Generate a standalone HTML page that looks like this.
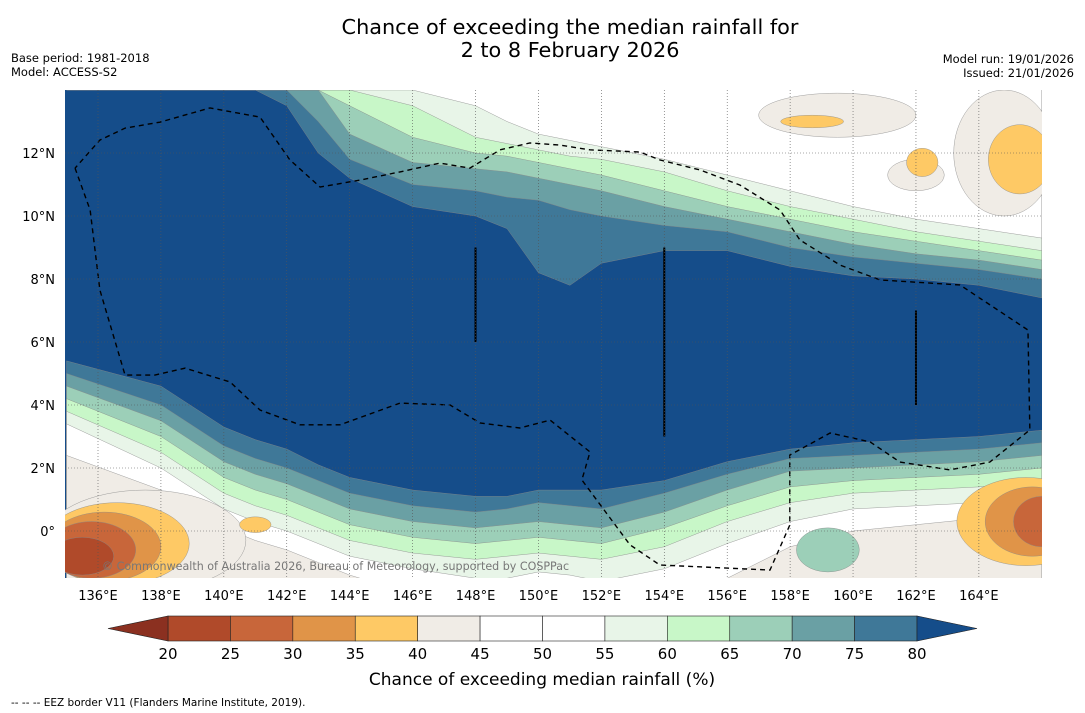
<!DOCTYPE html>
<html><head><meta charset="utf-8">
<style>
body{margin:0;background:#fff;width:1085px;height:713px;overflow:hidden;font-family:"DejaVu Sans","Liberation Sans",sans-serif;}
svg{display:block}
</style></head>
<body>
<svg id="chart" width="1085" height="713" xmlns="http://www.w3.org/2000/svg" font-family="DejaVu Sans, Liberation Sans, sans-serif">
<text x="570" y="34" font-size="20.8" text-anchor="middle">Chance of exceeding the median rainfall for</text>
<text x="570" y="57" font-size="20.8" text-anchor="middle">2 to 8 February 2026</text>
<text x="11" y="62" font-size="11.5">Base period: 1981-2018</text>
<text x="11" y="76" font-size="11.5">Model: ACCESS-S2</text>
<text x="1074" y="63" font-size="11.5" text-anchor="end">Model run: 19/01/2026</text>
<text x="1074" y="77" font-size="11.5" text-anchor="end">Issued: 21/01/2026</text>
<defs><clipPath id="mapclip"><rect x="65" y="90" width="977" height="488"/></clipPath></defs>
<g id="map" clip-path="url(#mapclip)"></g>
<g id="axes"></g>
<g id="cbar"></g>
<text x="542" y="685" font-size="17" text-anchor="middle">Chance of exceeding median rainfall (%)</text>
<text x="11" y="706" font-size="10.5">--  --  -- EEZ border V11 (Flanders Marine Institute, 2019).</text>
</svg>
<script>
const lons=[135,138,140,141,142,143,144,146,148,149,150,151,152,154,156,158,160,162,164,166];
const upper80=[14,14,14,14,13.5,12,11.2,10.3,10,9.6,8.2,7.8,8.5,8.9,8.9,8.4,8.1,8.0,7.8,7.4];
const upper75=[14,14,14,14,14,13,11.8,11,10.8,10.6,10.5,10.2,10.0,9.7,9.5,9.0,8.7,8.5,8.3,8.0];
const upper70=[14,14,14,14,14,14,12.6,11.7,11.5,11.4,11.2,11.0,10.8,10.3,9.9,9.5,9.1,8.8,8.6,8.3];
const upper65=[14,14,14,14,14,14,13.5,12.5,12.0,11.9,11.7,11.5,11.3,10.8,10.3,9.9,9.5,9.2,8.9,8.6];
const upper60=[14,14,14,14,14,14,14,13.5,12.5,12.3,12.1,11.9,11.8,11.4,10.8,10.3,9.9,9.5,9.2,8.9];
const upper55=[14,14,14,14,14,14,14,14,13.5,13.0,12.6,12.4,12.2,11.8,11.3,10.8,10.3,9.9,9.6,9.3];
const lower80=[5.4,4.6,3.3,2.9,2.6,2.1,1.7,1.3,1.1,1.1,1.3,1.3,1.3,1.6,2.2,2.6,2.8,2.9,3.0,3.2];
const lower75=[5.0,4.0,2.7,2.3,2.0,1.6,1.2,0.8,0.6,0.7,0.9,0.8,0.7,1.2,1.8,2.3,2.4,2.5,2.6,2.8];
const lower70=[4.6,3.5,2.2,1.8,1.5,1.1,0.7,0.3,0.1,0.2,0.3,0.2,0.1,0.6,1.3,1.9,2.0,2.1,2.2,2.4];
const lower65=[4.2,3.0,1.7,1.3,1.0,0.6,0.2,-0.2,-0.4,-0.3,-0.2,-0.3,-0.4,0.1,0.8,1.4,1.6,1.7,1.8,2.0];
const lower60=[3.8,2.5,1.2,0.8,0.5,0.1,-0.3,-0.7,-0.9,-0.8,-0.7,-0.8,-0.9,-0.5,0.3,0.9,1.2,1.3,1.4,1.6];
const lower55=[3.4,2.0,0.7,0.3,0.0,-0.4,-0.8,-1.2,-1.5,-1.5,-1.3,-1.4,-1.6,-1.2,-0.4,0.3,0.7,0.8,0.9,1.1];
const lower45=[2.4,1.3,0.1,-0.3,-0.6,-1.0,-1.4,-2,-2,-2,-2,-2,-2,-2,-1.5,-0.5,0,0.2,0.4,0.6];
const eezLon=[135.27,135.75,136.06,136.86,137.81,138.77,140.2,141.15,142.42,143.69,145.6,147.19,148.14,149.41,150.37,151.64,151.38,152.91,153.86,157.36,157.99,157.99,159.27,160.54,161.49,163.08,164.35,165.62,165.56,163.4,162.45,160.86,159.59,158.31,157.68,156.41,155.14,153.86,153.23,151.64,150.69,149.73,148.78,147.82,146.87,145.6,144.33,143.06,142.1,141.15,139.56,137.97,136.86,136.06,135.27];
const eezLat=[11.52,10.19,7.65,4.95,4.95,5.17,4.73,3.84,3.37,3.37,4.06,4.0,3.43,3.27,3.52,2.51,1.62,-0.44,-1.08,-1.24,0.19,2.41,3.11,2.83,2.19,1.94,2.19,3.21,6.38,7.81,7.87,7.97,8.44,9.24,10.19,10.98,11.46,11.78,12.03,12.1,12.25,12.32,12.1,11.52,11.68,11.4,11.14,10.92,11.78,13.14,13.43,12.98,12.79,12.41,11.52];
const lonTicks=[136,138,140,142,144,146,148,150,152,154,156,158,160,162,164];
const latTicks=[0,2,4,6,8,10,12];
const latTickLabels=['0°','2°N','4°N','6°N','8°N','10°N','12°N'];
const cbLevels=[20,25,30,35,40,45,50,55,60,65,70,75,80];
const cbColors=['#b04a2a','#c8663a','#e09448','#fec965','#f0ece6','#ffffff','#ffffff','#e8f5e8','#c8f7c8','#9ccfb8','#6aa0a4','#3f7898'];
const under='#8b3020', over='#154d8a';
const NS='http://www.w3.org/2000/svg';
const X=lon=>98+(lon-136)*31.46;
const Y=lat=>531-lat*31.5;
const CX=v=>168+(v-20)*(917-168)/60;
function mk(tag,attrs,parent){const e=document.createElementNS(NS,tag);for(const k in attrs)e.setAttribute(k,attrs[k]);parent.appendChild(e);return e;}
const map=document.getElementById('map');
let r=mk('rect',{x:65,y:90,width:977,height:488,fill:over},map);


function band(arr,top,color,name){
  let d='M'+X(lons[0])+','+Y(top);
  lons.forEach((l,i)=>{d+=' L'+X(l)+','+Y(arr[i]);});
  d+=' L'+X(lons[lons.length-1])+','+Y(top)+' Z';
  const p=mk('path',{d:d,fill:color,stroke:'#888','stroke-width':0.4},map);
  
  
}
band(upper80,16,cbColors[11],'upper-band-75-80');
band(upper75,16,cbColors[10],'upper-band-70-75');
band(upper70,16,cbColors[9],'upper-band-65-70');
band(upper65,16,cbColors[8],'upper-band-60-65');
band(upper60,16,cbColors[7],'upper-band-55-60');
band(upper55,16,'#ffffff','upper-band-45-55');
band(lower80,-3,cbColors[11],'lower-band-75-80');
band(lower75,-3,cbColors[10],'lower-band-70-75');
band(lower70,-3,cbColors[9],'lower-band-65-70');
band(lower65,-3,cbColors[8],'lower-band-60-65');
band(lower60,-3,cbColors[7],'lower-band-55-60');
band(lower55,-3,'#ffffff','lower-band-45-55');
band(lower45,-3,cbColors[4],'lower-band-40-45');
function blob(lon,lat,rx,ry,color,name){
  const e=mk('ellipse',{cx:X(lon),cy:Y(lat),rx:rx*31.46,ry:ry*31.5,fill:color,stroke:'#888','stroke-width':0.4},map);
  
  
}
blob(159.5,13.2,2.5,0.7,cbColors[4],'tan-blob-ne');
blob(164.8,12,1.6,2,cbColors[4],'tan-blob-east');
blob(162,11.3,0.9,0.5,cbColors[4],'tan-blob-mid');
blob(158.7,13.0,1.0,0.2,cbColors[3],'orange-blob-top');
blob(162.2,11.7,0.5,0.45,cbColors[3],'orange-blob-162');
blob(165.3,11.8,1.0,1.1,cbColors[3],'orange-blob-165');
blob(137.5,-0.3,3.2,1.6,cbColors[4],'tan-blob-sw');
blob(136.6,-0.4,2.3,1.3,cbColors[3],'orange-blob-sw');
blob(136.2,-0.5,1.8,1.1,cbColors[2],'dark-orange-blob-sw');
blob(135.8,-0.6,1.4,0.9,cbColors[1],'red-blob-sw');
blob(135.5,-0.8,1.0,0.6,cbColors[0],'deep-red-blob-sw');
blob(141,0.2,0.5,0.25,cbColors[3],'orange-blob-141');
blob(165.5,0.3,2.2,1.4,cbColors[3],'orange-blob-se');
blob(165.7,0.3,1.5,1.1,cbColors[2],'dark-orange-blob-se');
blob(166,0.3,0.9,0.8,cbColors[1],'red-blob-se');
blob(159.2,-0.6,1.0,0.7,cbColors[9],'teal-blob-south');
let ed='';eezLon.forEach((l,i)=>{ed+=(i?' L':'M')+X(l)+','+Y(eezLat[i]);});
let eez=mk('path',{d:ed,fill:'none',stroke:'#000','stroke-width':1.4,'stroke-dasharray':'5,4'},map);


[[148,6,9],[154,3,9],[162,4,7]].forEach((s,i)=>{
  const l=mk('line',{x1:X(s[0]),x2:X(s[0]),y1:Y(s[1]),y2:Y(s[2]),stroke:'#000','stroke-width':2},map);
  
  
});
const ax=document.getElementById('axes');
lonTicks.forEach(t=>{
  const g=mk('line',{x1:X(t),x2:X(t),y1:90,y2:578,stroke:'#555','stroke-width':0.6,'stroke-dasharray':'1,2'},map);
  
  
  const tx=mk('text',{x:X(t),y:600,'font-size':13,'text-anchor':'middle'},ax);
  tx.textContent=t+'°E';
  
  
});
latTicks.forEach((t,i)=>{
  const g=mk('line',{x1:65,x2:1042,y1:Y(t),y2:Y(t),stroke:'#555','stroke-width':0.6,'stroke-dasharray':'1,2'},map);
  
  
  const tx=mk('text',{x:55,y:Y(t)+5,'font-size':13,'text-anchor':'end'},ax);
  tx.textContent=latTickLabels[i];
  
  
});
let cr=mk('text',{x:102,y:570,'font-size':11.1,fill:'#777'},map);
cr.textContent='© Commonwealth of Australia 2026, Bureau of Meteorology, supported by COSPPac';


const cb=document.getElementById('cbar');
for(let i=0;i<cbColors.length;i++){
  const rc=mk('rect',{x:CX(cbLevels[i]),y:616,width:CX(cbLevels[i+1])-CX(cbLevels[i]),height:25,fill:cbColors[i],stroke:'#222','stroke-width':0.6},cb);
  
  
}
let t1=mk('polygon',{points:'108,628.5 '+CX(20)+',616 '+CX(20)+',641',fill:under,stroke:'#222','stroke-width':0.6},cb);


let t2=mk('polygon',{points:'977,628.5 '+CX(80)+',616 '+CX(80)+',641',fill:over,stroke:'#222','stroke-width':0.6},cb);


cbLevels.forEach(v=>{
  const tx=mk('text',{x:CX(v),y:659,'font-size':15,'text-anchor':'middle'},cb);
  tx.textContent=v;
  
  
});
</script>
</body></html>
